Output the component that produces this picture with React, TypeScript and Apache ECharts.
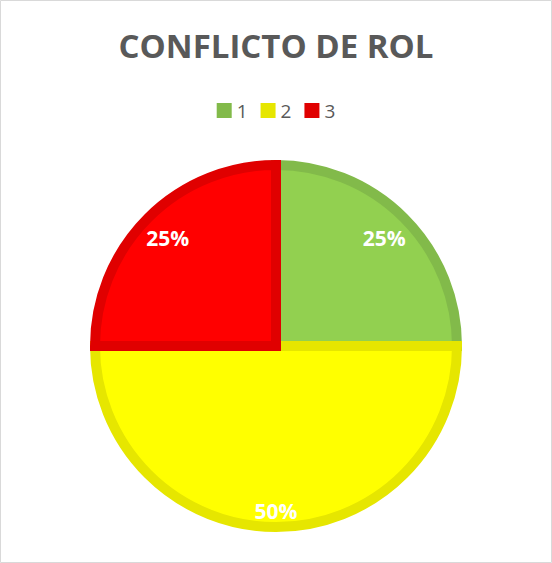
import React, { useEffect, useRef } from "react";
import * as echarts from "echarts";

const categories = ["1", "2", "3"];
const values = [25, 50, 25];
const fillColors = ["#92D050", "#FFFF00", "#FF0000"];
const borderColors = ["#82BA4A", "#E6E600", "#E00000"];
const titleText = "CONFLICTO DE ROL";

export default function App() {
  const ref = useRef<HTMLDivElement>(null);
  useEffect(() => {
    if (!ref.current) return;
    const chart = echarts.init(ref.current, undefined, { renderer: "svg" });
    const total = values.reduce((a, b) => a + b, 0);
    const share = (v: number) => v / total;
    const labelStyle = {
      show: true,
      position: "inside",
      formatter: (p: any) => Math.round(share(p.value) * 100) + "%",
      color: "#ffffff",
      fontFamily: "Open Sans",
      fontWeight: "bold",
      fontSize: 21,
    };
    const labelSeries = (radius: number[], large: boolean) => ({
      type: "pie",
      center: [276, 346],
      radius,
      startAngle: 90,
      clockwise: true,
      silent: true,
      itemStyle: { color: "rgba(0,0,0,0)" },
      label: labelStyle,
      labelLine: { show: false },
      emphasis: { disabled: true },
      data: categories.map((c, i) => ({
        name: c,
        value: values[i],
        label: { show: share(values[i]) >= 0.5 === large },
      })),
    });
    chart.setOption({
      animation: false,
      backgroundColor: "#ffffff",
      title: {
        text: titleText,
        left: "center",
        top: 24,
        textStyle: {
          fontFamily: "Open Sans",
          fontWeight: "bold",
          fontSize: 33,
          color: "#595959",
        },
      },
      legend: {
        top: 96,
        left: "center",
        itemWidth: 15,
        itemHeight: 15,
        itemGap: 13,
        icon: "rect",
        textStyle: { fontFamily: "Open Sans", fontSize: 19, color: "#595959" },
        data: categories.map((c, i) => ({
          name: c,
          itemStyle: { color: borderColors[i], borderWidth: 0 },
        })),
      },
      graphic: [
        {
          type: "rect",
          shape: { x: 0.5, y: 0.5, width: 551, height: 562 },
          style: { fill: "none", stroke: "#D9D9D9", lineWidth: 1 },
          silent: true,
        },
      ],
      series: [
        {
          type: "pie",
          center: [276, 346],
          radius: [0, 181],
          startAngle: 90,
          clockwise: true,
          label: { show: false },
          labelLine: { show: false },
          emphasis: { disabled: true },
          data: categories.map((c, i) => ({
            name: c,
            value: values[i],
            itemStyle: {
              color: fillColors[i],
              borderColor: borderColors[i],
              borderWidth: 10,
              borderJoin: "miter",
              borderMiterLimit: 10,
            },
          })),
        },
        labelSeries([114, 186], false),
        labelSeries([138, 186], true),
      ],
    });
    return () => chart.dispose();
  }, []);
  return (
    <div
      ref={ref}
      style={{ position: "fixed", left: 0, top: 0, width: 552, height: 563 }}
    />
  );
}
